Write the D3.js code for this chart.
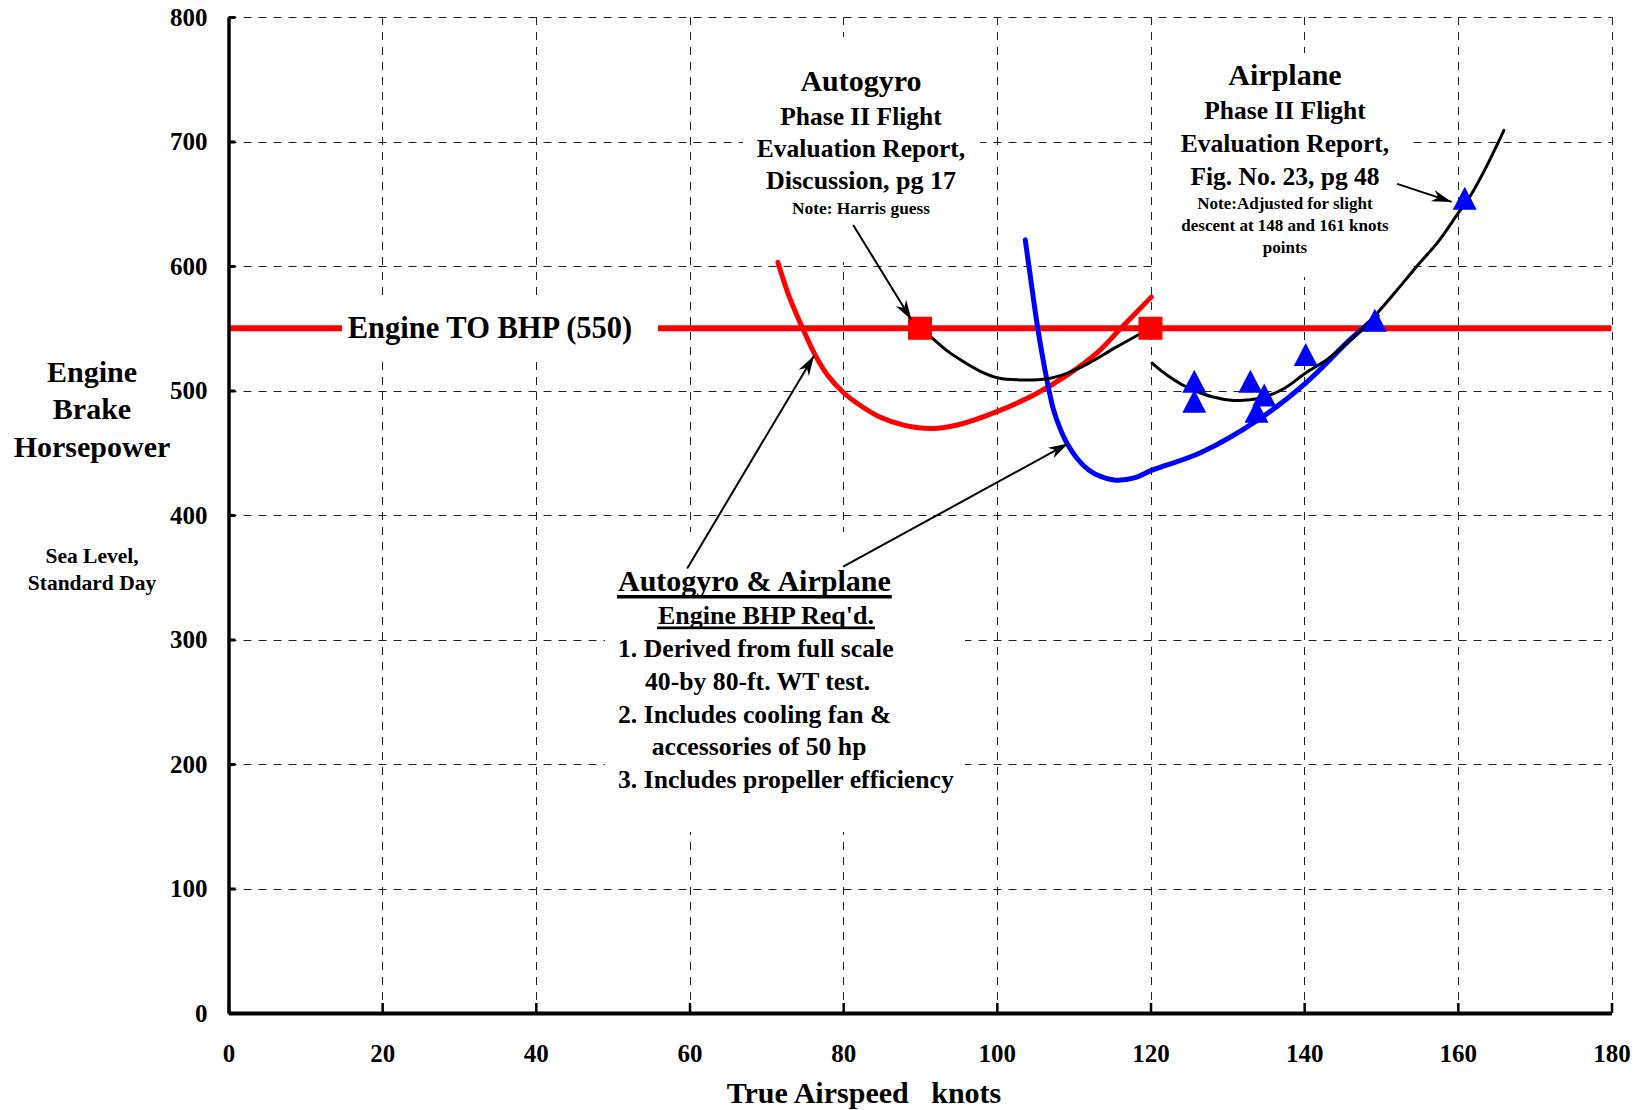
<!DOCTYPE html>
<html><head><meta charset="utf-8">
<script src="https://cdn.jsdelivr.net/npm/d3@7"></script>
<style>
html,body{margin:0;padding:0;background:#fff;}
svg{display:block;font-family:"Liberation Serif","Times New Roman",serif;font-weight:bold;}
</style></head><body>
<svg id="chart" width="1642" height="1110"></svg>
<script>
// ---------- data ----------
const xTickValues = [0,20,40,60,80,100,120,140,160,180];
const yTickValues = [0,100,200,300,400,500,600,700,800];
const engineTakeoffBhp = 550;

// Autogyro engine BHP required (red)
const autogyroRequired = [[71.5,603],[73,575],[74.8,549],[76.4,528],[78,512],[80.1,498],[82,489],[84.7,479],[88,472],[91.6,469.5],[95,472.5],[100,483],[105,497],[109.2,512.5],[113,530],[116.3,551],[120.1,575]];
// Airplane engine BHP required (blue)
const airplaneRequired = [[103.7,621],[104.6,581],[105.3,551],[106.1,522],[106.8,500],[107.4,484],[108.2,470],[109.1,458],[110.5,445],[112,436],[113.5,431],[115.5,428],[118,430],[120.2,436],[126.5,450],[133.9,476],[140.2,506],[146,541],[149.5,560]];
// Autogyro flight evaluation (black)
const autogyroFlight = [[90,550],[91.6,542],[93.5,532],[95.7,523],[98,515],[100.2,510],[103,508.5],[106.6,509.5],[109.2,514],[112,522],[115.3,534],[118.5,545],[120,550]];
// Airplane flight evaluation (black)
const airplaneFlight = [[120.2,522],[122,513],[124,505],[125.7,500],[128,495],[130.8,492],[133,492.5],[135,495],[137.5,502],[140.2,514],[143,525],[145,535],[147.7,550],[149.5,562],[152,580],[154.7,600],[157.5,620],[160,642],[161.6,656],[163.4,676],[166,709]];
// markers
const autogyroFlightPoints = [[90,550],[120,550]];
const airplaneFlightPoints = [[125.7,507],[125.7,491],[133,507],[134.8,496],[133.8,483],[140.2,528.5],[149.2,556],[160.9,654]];
// annotation arrows (data units)
const arrowFrom = [[81.3,633],[59.7,357],[80.0,358.5],[152.1,666]];
const arrowTo   = [[88.9,556.6],[76.2,528],[109.3,457.5],[159.2,651.5]];

// ---------- chart ----------
const svg = d3.select("#chart");
svg.append("rect").attr("width",1642).attr("height",1110).attr("fill","#fff");

const x = d3.scaleLinear().domain([0,180]).range([228.5,1611.5]);
const y = d3.scaleLinear().domain([0,800]).range([1013,17]);

// grid
const grid = svg.append("g").attr("stroke","#222").attr("stroke-width",1).attr("stroke-dasharray","8,7").attr("fill","none");
grid.selectAll("line.v").data(xTickValues.filter(d=>d>0)).join("line")
  .attr("x1",d=>Math.round(x(d))+0.5).attr("x2",d=>Math.round(x(d))+0.5)
  .attr("y1",y(800)).attr("y2",y(0));
grid.selectAll("line.h").data(yTickValues.filter(d=>d>0)).join("line")
  .attr("y1",d=>Math.round(y(d))+0.5).attr("y2",d=>Math.round(y(d))+0.5)
  .attr("x1",x(0)).attr("x2",x(180));

// engine takeoff BHP line
svg.append("line").attr("x1",x(0)).attr("x2",x(180))
  .attr("y1",y(engineTakeoffBhp)).attr("y2",y(engineTakeoffBhp))
  .attr("stroke","#ff0000").attr("stroke-width",6);

// white text boxes (interrupt gridlines)
const boxes = [[743,37,237,225],[1157,53,254,224],[605,532,360,300],[342,300,316,55]];
svg.append("g").selectAll("rect").data(boxes).join("rect")
  .attr("x",d=>d[0]).attr("y",d=>d[1]).attr("width",d=>d[2]).attr("height",d=>d[3]).attr("fill","#fff");

// curves
const line = d3.line().x(d=>x(d[0])).y(d=>y(d[1])).curve(d3.curveCatmullRom.alpha(0.5));
svg.append("path").datum(autogyroRequired).attr("d",line).attr("fill","none").attr("stroke","#ff0000").attr("stroke-width",5).attr("stroke-linecap","round");
svg.append("path").datum(airplaneRequired).attr("d",line).attr("fill","none").attr("stroke","#0000ff").attr("stroke-width",5).attr("stroke-linecap","round");
svg.append("path").datum(autogyroFlight).attr("d",line).attr("fill","none").attr("stroke","#000").attr("stroke-width",3).attr("stroke-linecap","round");
svg.append("path").datum(airplaneFlight).attr("d",line).attr("fill","none").attr("stroke","#000").attr("stroke-width",3).attr("stroke-linecap","round");

// markers
svg.append("g").selectAll("rect").data(autogyroFlightPoints).join("rect")
  .attr("x",d=>x(d[0])-12).attr("y",d=>y(d[1])-11.5).attr("width",24).attr("height",23).attr("fill","#ff0000");
svg.append("g").selectAll("path").data(airplaneFlightPoints).join("path")
  .attr("d",d=>{const cx=x(d[0]),cy=y(d[1]);return `M${cx},${cy-12}L${cx+12},${cy+11}L${cx-12},${cy+11}Z`;})
  .attr("fill","#0000ff");

// arrows
const defs = svg.append("defs");
defs.append("marker").attr("id","ah").attr("markerUnits","userSpaceOnUse")
  .attr("viewBox","-22 -8 24 16").attr("refX",0).attr("refY",0)
  .attr("markerWidth",24).attr("markerHeight",16).attr("orient","auto")
  .append("path").attr("d","M0,0L-20,-6L-14,0L-20,6Z").attr("fill","#000");
svg.append("g").selectAll("line").data(arrowFrom).join("line")
  .attr("x1",d=>x(d[0])).attr("y1",d=>y(d[1]))
  .attr("x2",(d,i)=>x(arrowTo[i][0])).attr("y2",(d,i)=>y(arrowTo[i][1]))
  .attr("stroke","#000").attr("stroke-width",2).attr("marker-end","url(#ah)");

// axes
const yAxis = d3.axisLeft(y).tickValues(yTickValues).tickSizeInner(-7).tickSizeOuter(0).tickPadding(21);
const gy = svg.append("g").attr("transform",`translate(${x(0)},0)`).call(yAxis)
  .attr("font-family",null).attr("font-size",null);
gy.select(".domain").attr("stroke","#000").attr("stroke-width",3.5);
gy.selectAll(".tick line").attr("stroke","#000").attr("stroke-width",3);
gy.selectAll(".tick text").attr("font-size",25).attr("font-weight","bold").attr("fill","#000").attr("dy","0.33em");

const xAxis = d3.axisBottom(x).tickValues(xTickValues).tickSizeInner(-10).tickSizeOuter(0).tickPadding(0);
const gx = svg.append("g").attr("transform",`translate(0,${y(0)})`).call(xAxis)
  .attr("font-family",null).attr("font-size",null);
gx.select(".domain").attr("stroke","#000").attr("stroke-width",4);
gx.selectAll(".tick line").attr("stroke","#000").attr("stroke-width",2.5);
gx.selectAll(".tick text").attr("font-size",25).attr("font-weight","bold").attr("fill","#000").attr("y",48.5).attr("dy",0);

// ---------- texts ----------
const texts = [
  // Autogyro block
  {t:"Autogyro",x:861,y:90.5,s:30,a:"middle"},
  {t:"Phase II Flight",x:861,y:124.5,s:25.5,a:"middle"},
  {t:"Evaluation Report,",x:861,y:156.7,s:25.5,a:"middle"},
  {t:"Discussion, pg 17",x:861,y:189,s:26,a:"middle"},
  {t:"Note: Harris guess",x:861,y:213.5,s:17.4,a:"middle"},
  // Airplane block
  {t:"Airplane",x:1285,y:85,s:30,a:"middle"},
  {t:"Phase II Flight",x:1285,y:119,s:25.5,a:"middle"},
  {t:"Evaluation Report,",x:1285,y:152.3,s:25.5,a:"middle"},
  {t:"Fig. No. 23, pg 48",x:1285,y:185,s:25.5,a:"middle"},
  {t:"Note:Adjusted for slight",x:1285,y:209.3,s:17,a:"middle"},
  {t:"descent at 148 and 161 knots",x:1285,y:231,s:17,a:"middle"},
  {t:"points",x:1285,y:252.5,s:17,a:"middle"},
  // takeoff label
  {t:"Engine TO BHP (550)",x:490,y:338.3,s:30.5,a:"middle"},
  // bottom block
  {t:"Autogyro & Airplane",x:618,y:591,s:30,a:"start",u:[4,3.5]},
  {t:"Engine BHP Req'd.",x:658,y:624,s:26,a:"start",u:[2.5,2.7]},
  {t:"1. Derived from full scale",x:618,y:657.3,s:25.7,a:"start"},
  {t:"40-by 80-ft. WT test.",x:645,y:690,s:25.7,a:"start"},
  {t:"2. Includes cooling fan &",x:618,y:722.5,s:25.7,a:"start"},
  {t:"accessories of 50 hp",x:651.7,y:755,s:25.7,a:"start"},
  {t:"3. Includes propeller efficiency",x:618,y:788.3,s:25.7,a:"start"},
  // y title
  {t:"Engine",x:92,y:381.7,s:30,a:"middle"},
  {t:"Brake",x:92,y:419,s:30,a:"middle"},
  {t:"Horsepower",x:92,y:456.7,s:30,a:"middle"},
  {t:"Sea Level,",x:92,y:562.7,s:21.5,a:"middle"},
  {t:"Standard Day",x:92,y:590,s:21.5,a:"middle"},
  // x title
  {t:"True Airspeed   knots",x:864,y:1103,s:30,a:"middle"}
];
const tg = svg.append("g").attr("fill","#000");
texts.forEach(d=>{
  const el = tg.append("text").attr("x",d.x).attr("y",d.y).attr("font-size",d.s)
    .attr("text-anchor",d.a).style("white-space","pre").text(d.t);
  if(d.u){
    const w = el.node().getComputedTextLength();
    tg.append("rect").attr("x",d.x-1).attr("y",d.y+d.u[0]).attr("width",w+2).attr("height",d.u[1]).attr("fill","#000");
  }
});
</script>
</body></html>
